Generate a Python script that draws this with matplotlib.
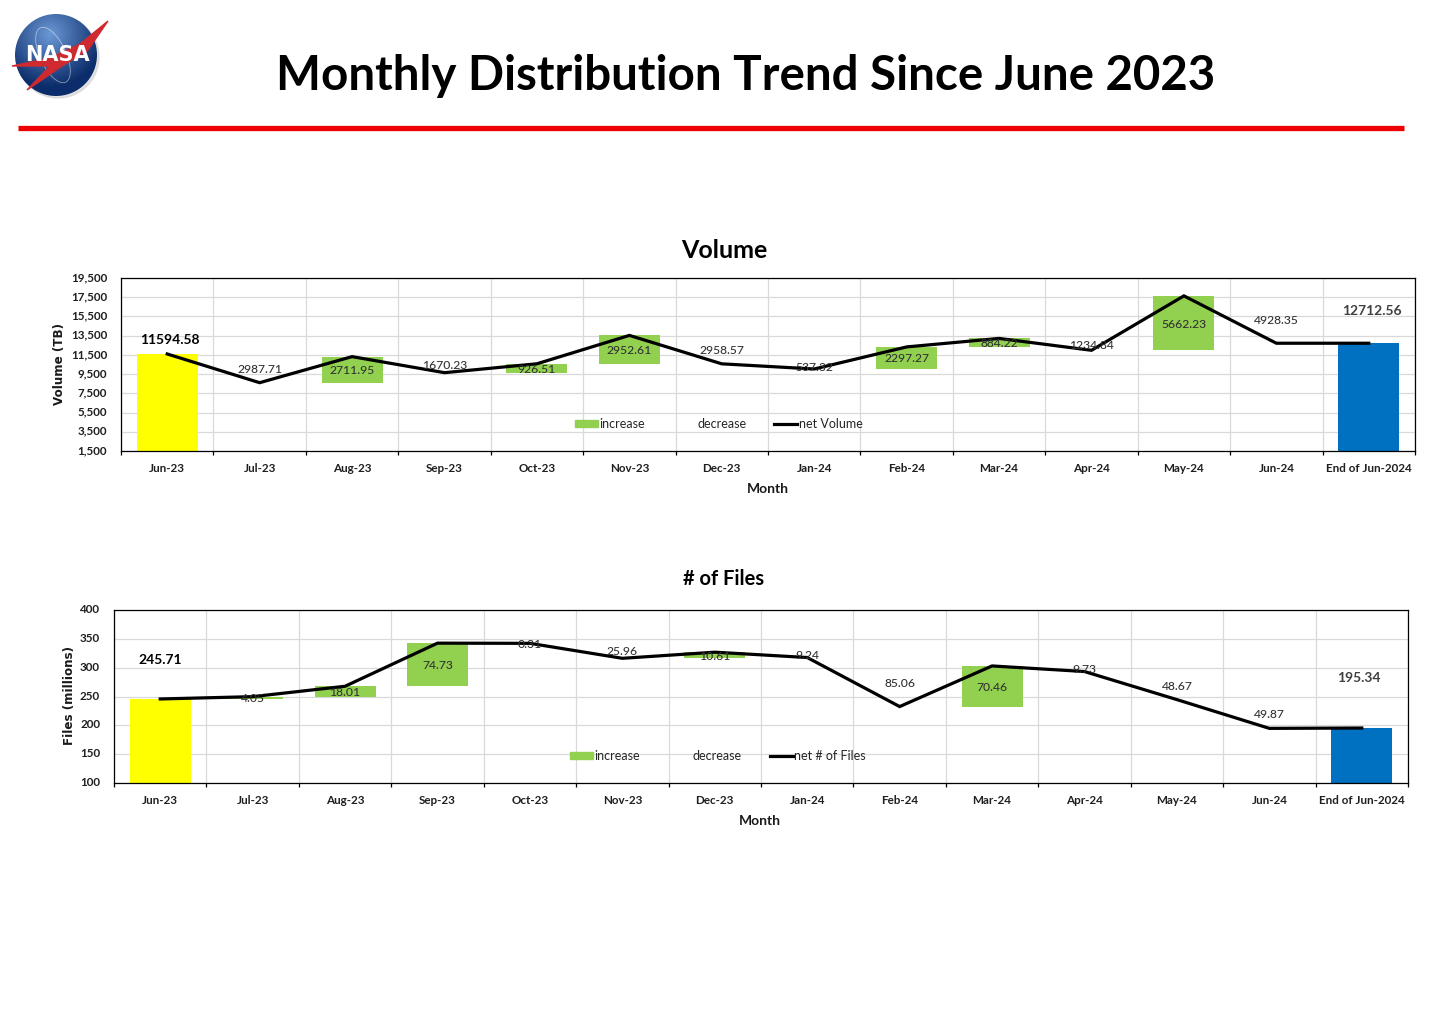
import numpy as np
import matplotlib
matplotlib.use("Agg")
import matplotlib.pyplot as plt
from matplotlib.patches import Patch, Polygon, Circle, Ellipse
from matplotlib.lines import Line2D
from matplotlib.transforms import ScaledTranslation

plt.rcParams["font.family"] = ["Lato", "DejaVu Sans"]

W, H = 1435, 1010

months = ["Jun-23", "Jul-23", "Aug-23", "Sep-23", "Oct-23", "Nov-23", "Dec-23", "Jan-24",
          "Feb-24", "Mar-24", "Apr-24", "May-24", "Jun-24", "End of Jun-2024"]

# volume chart
vol_net = [11594.58, 8606.87, 11318.82, 9648.59, 10575.10, 13527.71, 10569.14, 10031.82,
           12329.09, 13213.31, 11978.47, 17640.70, 12712.35, 12712.56]
vol_change = [2987.71, 2711.95, 1670.23, 926.51, 2952.61, 2958.57, 537.32,
              2297.27, 884.22, 1234.84, 5662.23, 4928.35]
vol_yticks = [1500, 3500, 5500, 7500, 9500, 11500, 13500, 15500, 17500, 19500]

# files chart
files_net = [245.71, 249.76, 267.77, 342.50, 342.19, 316.23, 326.84, 317.60,
             232.54, 303.00, 293.27, 244.60, 194.73, 195.34]
files_change = [4.05, 18.01, 74.73, 0.31, 25.96, 10.61, 9.24,
                85.06, 70.46, 9.73, 48.67, 49.87]
files_yticks = [100, 150, 200, 250, 300, 350, 400]


def px_axes(left, top, right, bottom):
    return fig.add_axes([left / W, 1 - bottom / H, (right - left) / W, (bottom - top) / H])


def chart(ax, net, change, yticks, ytick_fmt, ylabel, legend_name, first_off, last_off,
          legend_xy, ylabel_x):
    x = np.arange(len(net))
    base = yticks[0]
    ax.set_xlim(-0.5, len(net) - 0.5)
    ax.set_ylim(yticks[0], yticks[-1])
    ax.set_axisbelow(True)
    ax.grid(True, color="#D9D9D9", lw=0.9)

    ax.bar(x[0], net[0] - base, 0.66, bottom=base, color="#FFFF00", zorder=2)
    ax.bar(x[-1], net[-1] - base, 0.66, bottom=base, color="#0070C0", zorder=2)
    for i in range(1, len(net) - 1):
        if net[i] > net[i - 1]:
            ax.bar(x[i], net[i] - net[i - 1], 0.66, bottom=net[i - 1], color="#92D050", zorder=2)
    ax.plot(x, net, color="black", lw=2.3, zorder=3, solid_joinstyle="miter")

    # labels sit in the middle of each step
    for i in range(1, len(net) - 1):
        ax.annotate(f"{change[i - 1]:.2f}", (x[i], (net[i] + net[i - 1]) / 2), xytext=(0, -1),
                    textcoords="offset pixels", ha="center", va="center",
                    fontsize=8.7, fontweight="medium", color="#333333", zorder=4)
    ax.annotate(f"{net[0]:.2f}", (x[0], net[0]), xytext=first_off, textcoords="offset pixels",
                ha="center", va="center", fontsize=10, fontweight="bold", color="black", zorder=4)
    ax.annotate(f"{net[-1]:.2f}", (x[-1], net[-1]), xytext=last_off, textcoords="offset pixels",
                ha="center", va="center", fontsize=10, fontweight="bold", color="#404040", zorder=4)

    ax.set_xticks(np.arange(len(net) + 1) - 0.5)
    ax.set_xticklabels([])
    ax.set_xticks(x, months, minor=True)
    ax.tick_params(axis="x", which="major", length=3.2, width=0.9, color="black", direction="out")
    ax.tick_params(axis="x", which="minor", length=0, pad=8.5, labelsize=8.4, labelcolor="#1f1f1f")
    for lab in ax.get_xticklabels(minor=True):
        lab.set_fontweight("bold")
    ax.set_yticks(yticks, [ytick_fmt.format(v) for v in yticks])
    ax.tick_params(axis="y", length=0, pad=10, labelsize=8.4, labelcolor="#1f1f1f")
    up = ScaledTranslation(0, 1.5 / 100, fig.dpi_scale_trans)
    for lab in ax.get_yticklabels():
        lab.set_fontweight("bold")
        lab.set_transform(lab.get_transform() + up)
    for s in ax.spines.values():
        s.set_color("black")
        s.set_linewidth(0.9)

    handles = [Patch(color="#92D050"), Patch(color="none"), Line2D([], [], color="black", lw=2.3)]
    ax.legend(handles, ["increase", "decrease", legend_name], ncol=3, frameon=False,
              loc="center", bbox_to_anchor=legend_xy, bbox_transform=fig.transFigure,
              fontsize=9, labelcolor="#262626", handlelength=1.85, handleheight=0.55,
              handletextpad=0.1, columnspacing=2.25, borderpad=0)

    pos = ax.get_position()
    fig.text(ylabel_x / W, pos.y0 + pos.height * 0.505, ylabel, rotation=90, ha="center", va="center",
             fontsize=8.6, fontweight="bold", family="DejaVu Sans", color="#1a1a1a")


fig = plt.figure(figsize=(W / 100, H / 100), dpi=100, facecolor="white")

fig.text(746 / W, 1 - 75.5 / H, "Monthly Distribution Trend Since June 2023", ha="center", va="center",
         fontsize=34.2, fontweight="bold", color="black")
fig.add_artist(Line2D([18 / W, 1404 / W], [1 - 127.5 / H] * 2, color="#EE0000", lw=3.8, solid_capstyle="butt"))

ax1 = px_axes(121, 278, 1415, 451)
chart(ax1, vol_net, vol_change, vol_yticks, "{:,}", "Volume (TB)", "net Volume",
      (3, 14), (3, 32), (718.5 / W, 1 - 424 / H), 59)
fig.text(724 / W, 1 - 251 / H, "Volume", ha="center", va="center", fontsize=18, fontweight="bold")
fig.text(768 / W, 1 - 489 / H, "Month", ha="center", va="center", fontsize=10, fontweight="bold", color="#1a1a1a")

ax2 = px_axes(114, 610, 1408, 783)
chart(ax2, files_net, files_change, files_yticks, "{}", "Files (millions)", "net # of Files",
      (0, 39), (-3, 50), (718 / W, 1 - 756 / H), 69)
fig.text(724 / W, 1 - 579 / H, "# of Files", ha="center", va="center", fontsize=14.5, fontweight="bold")
fig.text(760 / W, 1 - 821 / H, "Month", ha="center", va="center", fontsize=10, fontweight="bold", color="#1a1a1a")

# NASA logo
logo = fig.add_axes([0, 1 - 110 / H, 130 / W, 110 / H])
logo.set_xlim(0, 130)
logo.set_ylim(110, 0)
logo.axis("off")
yy, xx = np.mgrid[0:110:0.5, 0:130:0.5]
shade = np.clip(np.hypot(xx - 50, yy - 34) / 52, 0, 1)[..., None]
light = np.array([0.42, 0.60, 0.84])
dark = np.array([0.05, 0.18, 0.42])
img = logo.imshow(light * (1 - shade) + dark * shade, extent=(0, 130, 110, 0), zorder=1)
img.set_clip_path(Circle((56, 55), 41, transform=logo.transData))
logo.add_patch(Circle((58, 57), 41, color="#C8C8C8", alpha=0.5, zorder=0))
logo.add_patch(Ellipse((53, 55), 26, 60, angle=-25, fill=False, ec="white", lw=0.6, alpha=0.5, zorder=2))
logo.add_patch(Polygon([[12, 66], [50, 58], [80, 44], [108, 21], [88, 50], [62, 66], [27, 90], [50, 66]],
                       closed=True, color="#CF2A30", zorder=2))
logo.text(57, 55, "NASA", ha="center", va="center", fontsize=15, fontweight="bold",
          family="DejaVu Sans", color="white", zorder=3)

fig.savefig("out.png", dpi=100)
